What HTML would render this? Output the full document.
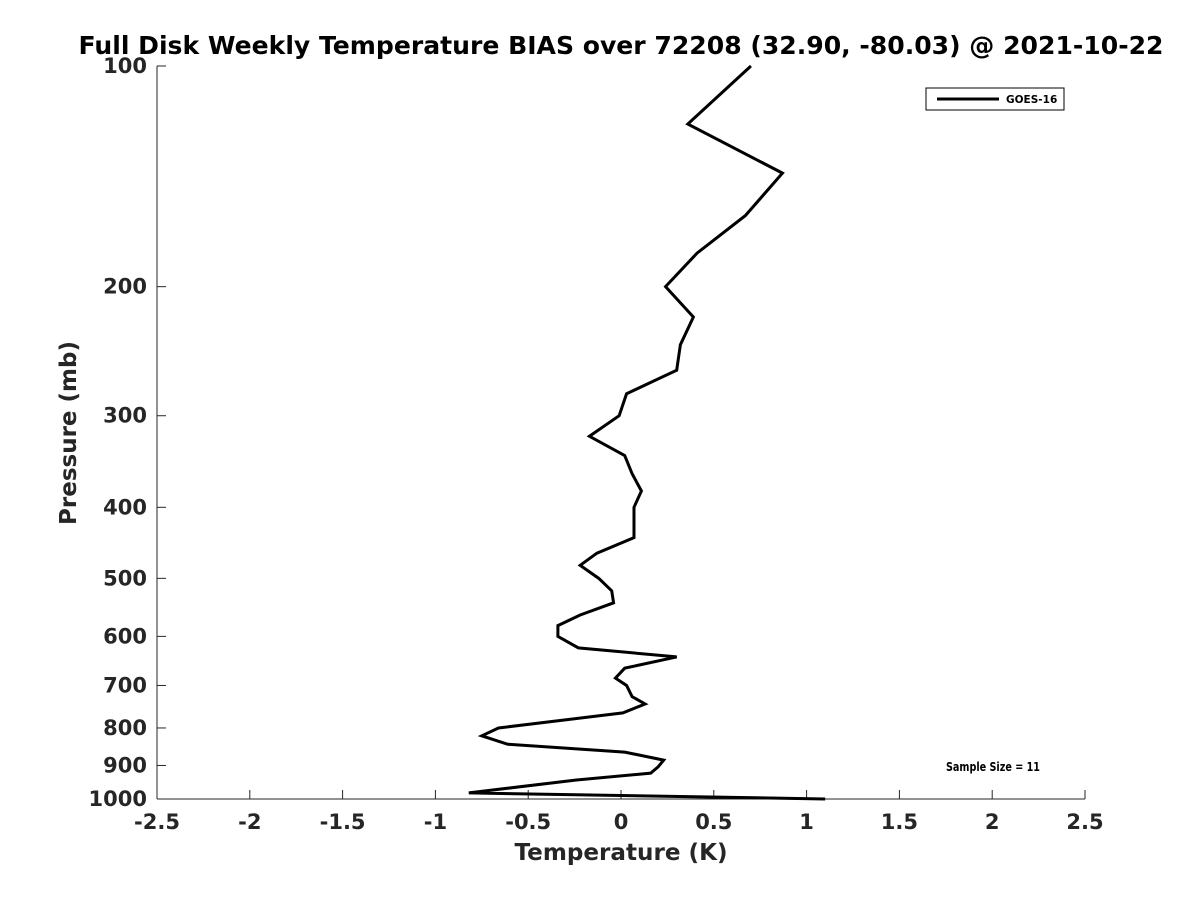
<!DOCTYPE html>
<html><head><meta charset="utf-8"><style>
html,body{margin:0;padding:0;background:#fff;}
svg{display:block;font-family:"DejaVu Sans","Liberation Sans",sans-serif;font-weight:bold;}
</style></head><body>
<svg id="chart" width="1200" height="900">
<text x="621" y="54" font-size="25" text-anchor="middle" fill="#000" textLength="1085" lengthAdjust="spacingAndGlyphs">Full Disk Weekly Temperature BIAS over 72208 (32.90, -80.03) @ 2021-10-22</text>
<g id="axes"></g>
<polyline id="series" fill="none" stroke="#000" stroke-width="3" stroke-linejoin="miter"></polyline>
<g>
<rect x="926" y="88" width="138" height="22" fill="#fff" stroke="#000" stroke-width="1"/>
<line x1="937" y1="99" x2="999" y2="99" stroke="#000" stroke-width="3"/>
<text x="1006" y="103" font-size="10.5" fill="#000">GOES-16</text>
</g>
<text x="946" y="771" font-size="12" fill="#000" textLength="94" lengthAdjust="spacingAndGlyphs">Sample Size = 11</text>
<text x="621" y="860" font-size="23" text-anchor="middle" fill="#262626" textLength="213" lengthAdjust="spacingAndGlyphs">Temperature (K)</text>
<text transform="translate(76,433) rotate(-90)" font-size="23" text-anchor="middle" fill="#262626">Pressure (mb)</text>
</svg>
<script>
const pressures=[100,120,140,160,180,200,220,240,260,280,300,320,340,360,380,400,440,462,480,500,520,540,561,580,600,622,640,663,684,700,725,742,763,780,800,820,842,863,885,904,922,942,981,1000];
const temps=[0.70,0.36,0.87,0.67,0.41,0.24,0.39,0.32,0.30,0.03,-0.01,-0.17,0.02,0.06,0.11,0.07,0.07,-0.13,-0.22,-0.12,-0.05,-0.04,-0.22,-0.34,-0.34,-0.23,0.30,0.02,-0.03,0.03,0.06,0.13,0.01,-0.30,-0.66,-0.75,-0.61,0.02,0.23,0.20,0.16,-0.24,-0.82,1.10];
const xTicks=[-2.5,-2,-1.5,-1,-0.5,0,0.5,1,1.5,2,2.5];
const xTickLabels=["-2.5","-2","-1.5","-1","-0.5","0","0.5","1","1.5","2","2.5"];
const yTicks=[100,200,300,400,500,600,700,800,900,1000];
const L=157,R=1085,T=66,B=799;
function xs(v){return L+(v+2.5)/5*(R-L);}
function ys(p){return T+Math.log10(p/100)*(B-T);}
const ns="http://www.w3.org/2000/svg";
const ax=document.getElementById('axes');
function mk(tag,attrs,parent){const e=document.createElementNS(ns,tag);for(const k in attrs)e.setAttribute(k,attrs[k]);parent.appendChild(e);return e;}
let l=mk('line',{x1:L,y1:T,x2:L,y2:B,stroke:'#262626','stroke-width':1},ax);


l=mk('line',{x1:L,y1:B,x2:R,y2:B,stroke:'#262626','stroke-width':1},ax);


xTicks.forEach((v,i)=>{
 const x=xs(v);
 const t=mk('line',{x1:x,y1:B,x2:x,y2:B-9,stroke:'#262626','stroke-width':1},ax);
 
 
 const tx=mk('text',{x:x,y:B+30,'font-size':21,'text-anchor':'middle',fill:'#262626'},ax);
 tx.textContent=xTickLabels[i];
 
 
});
yTicks.forEach(p=>{
 const y=ys(p);
 const t=mk('line',{x1:L,y1:y,x2:L+9,y2:y,stroke:'#262626','stroke-width':1},ax);
 
 
 const tx=mk('text',{x:L-10,y:y+7,'font-size':21,'text-anchor':'end',fill:'#262626'},ax);
 tx.textContent=String(p);
 
 
});
document.getElementById('series').setAttribute('points',temps.map((t,i)=>xs(t)+','+ys(pressures[i])).join(' '));
</script>
</body></html>
